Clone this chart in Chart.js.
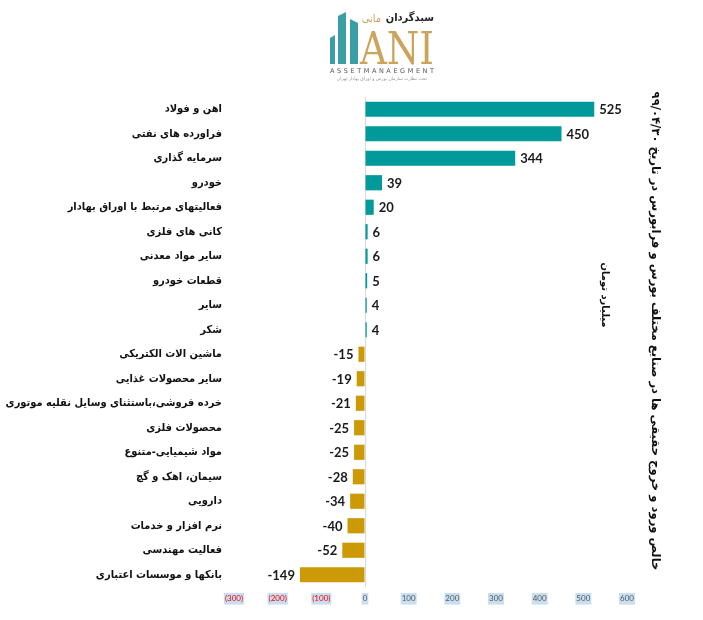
<!DOCTYPE html>
<html>
<head>
<meta charset="utf-8">
<script src="https://cdn.jsdelivr.net/npm/chart.js@4.4.0/dist/chart.umd.min.js"></script>
<style>
  body { margin: 0; background: #fff; }
  #wrap { position: relative; width: 703px; height: 620px; }
  #logo { position: absolute; left: 326px; top: 2px; }
</style>
</head>
<body>
<div id="wrap">
  <canvas id="myChart" width="703" height="620"></canvas>
  <svg id="logo" width="112" height="80" viewBox="0 0 112 80">
    <polygon points="4,36 9,33 9,62 4,62" fill="#3a9ea5"/>
    <polygon points="12,14 20,10 20,62 12,62" fill="#3a9ea5"/>
    <polygon points="24,17 32,21 32,62 24,62" fill="#3a9ea5"/>
    <text x="34" y="62" font-family="DejaVu Serif, Liberation Serif" font-size="44" fill="#c9a45a" textLength="74" lengthAdjust="spacingAndGlyphs">ANI</text>
    <text x="108" y="19" font-family="DejaVu Sans Condensed, DejaVu Sans" font-weight="bold" font-size="11" text-anchor="end" fill="#222">سبدگردان</text>
    <text x="55" y="20" font-family="DejaVu Sans Condensed, DejaVu Sans" font-size="11" text-anchor="end" fill="#c9a45a">مانی</text>
    <text x="4" y="71" font-family="DejaVu Sans" font-size="6.5" fill="#555" textLength="104" lengthAdjust="spacing">ASSETMANAEGMENT</text>
    <text x="56" y="78" font-family="DejaVu Sans" font-size="4.5" fill="#999" text-anchor="middle">تحت نظارت سازمان بورس و اوراق بهادار تهران</text>
  </svg>
</div>
<script>
var sectorLabels = [
  "اهن و فولاد",
  "فراورده های نفتی",
  "سرمایه گذاری",
  "خودرو",
  "فعالیتهای مرتبط با اوراق بهادار",
  "کانی های فلزی",
  "سایر مواد معدنی",
  "قطعات خودرو",
  "سایر",
  "شکر",
  "ماشین الات الکتریکی",
  "سایر محصولات غذایی",
  "خرده فروشی،باستثنای وسایل نقلیه موتوری",
  "محصولات فلزی",
  "مواد شیمیایی-متنوع",
  "سیمان، اهک و گچ",
  "دارویی",
  "نرم افزار و خدمات",
  "فعالیت مهندسی",
  "بانکها و موسسات اعتباری"
];
var netFlow = [525, 450, 344, 39, 20, 6, 6, 5, 4, 4, -15, -19, -21, -25, -25, -28, -34, -40, -52, -149];
var axisMin = -300;
var axisMax = 600;
var axisStep = 100;

var chartTitle = "خالص ورود و خروج حقیقی ها در صنایع مختلف بورس و فرابورس در تاریخ ۹۹/۰۴/۳۰";
var unitLabel = "میلیارد تومان";

// value labels next to each bar + the two rotated texts on the right
var barValues = {
  id: 'barValues',
  afterDatasetsDraw: function(chart) {
    var ctx = chart.ctx;
    var meta = chart.getDatasetMeta(0);
    ctx.save();
    ctx.font = 'bold 13px Lato';
    ctx.fillStyle = '#1a1a1a';
    ctx.textBaseline = 'middle';
    meta.data.forEach(function(bar, i) {
      var v = netFlow[i];
      if (v >= 0) {
        ctx.textAlign = 'left';
        ctx.fillText(v, bar.x + 5, bar.y + 1);
      } else {
        ctx.textAlign = 'right';
        ctx.fillText(v, bar.x - 5, bar.y + 1);
      }
    });
    ctx.restore();

    ctx.save();
    ctx.fillStyle = '#111';
    ctx.direction = 'rtl';
    ctx.textAlign = 'center';
    ctx.textBaseline = 'middle';
    ctx.font = 'bold 11.6px "DejaVu Sans"';
    ctx.translate(655, 331);
    ctx.rotate(Math.PI / 2);
    ctx.fillText(chartTitle, 0, 0);
    ctx.restore();

    ctx.save();
    ctx.fillStyle = '#111';
    ctx.direction = 'rtl';
    ctx.textAlign = 'center';
    ctx.textBaseline = 'middle';
    ctx.font = 'bold 10px "DejaVu Sans"';
    ctx.translate(605, 295);
    ctx.rotate(Math.PI / 2);
    ctx.fillText(unitLabel, 0, 0);
    ctx.restore();
  }
};

function buildFlowChart() {
  var ctx = document.getElementById('myChart').getContext('2d');
  var chart = new Chart(ctx, {
    type: 'bar',
    data: {
      labels: sectorLabels,
      datasets: [{
        data: netFlow,
        backgroundColor: netFlow.map(function(v) { return v >= 0 ? '#009A9A' : '#CC9A06'; }),
        categoryPercentage: 1,
        barPercentage: 0.62
      }]
    },
    plugins: [barValues],
    options: {
      indexAxis: 'y',
      responsive: false,
      animation: false,
      layout: { padding: { left: 0, right: 76, top: 97, bottom: 0 } },
      plugins: {
        legend: { display: false },
        tooltip: { enabled: false }
      },
      scales: {
        x: {
          min: axisMin,
          max: axisMax,
          afterFit: function(s) { s.height = 33; },
          border: { display: false },
          grid: {
            drawTicks: false,
            color: function(c) { return c.tick && c.tick.value === 0 ? '#d9d9d9' : 'rgba(0,0,0,0)'; }
          },
          ticks: {
            stepSize: axisStep,
            padding: 7,
            font: { family: 'Lato', size: 8 },
            color: function(c) { return c.tick.value < 0 ? '#ff0000' : '#595959'; },
            showLabelBackdrop: true,
            backdropColor: 'rgba(155,194,230,0.55)',
            backdropPadding: 1,
            callback: function(v) { return v < 0 ? '(' + (-v) + ')' : v; }
          }
        },
        y: {
          afterFit: function(s) { s.width = 234; },
          border: { display: false },
          grid: { display: false, drawTicks: false },
          ticks: {
            padding: 12,
            color: '#111',
            font: { family: '"DejaVu Sans Condensed", "DejaVu Sans"', size: 11, weight: 'bold' }
          }
        }
      }
    }
  });
}

buildFlowChart();
</script>
</body>
</html>
